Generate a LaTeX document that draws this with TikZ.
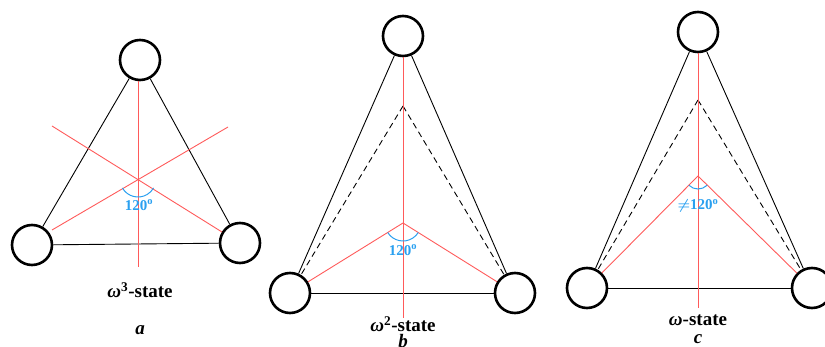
\documentclass[tikz,border=0pt]{standalone}
\usepackage{amsmath, amssymb}
\usepackage{fontspec}
\setmainfont{Liberation Serif}
\usepackage{tikz}
\usetikzlibrary{positioning, calc}
\definecolor{bondred}{HTML}{FF5A5A}
\definecolor{anglblue}{HTML}{2AA0F0}

\begin{document}
\begin{tikzpicture}[
    x=1pt, y=1pt,
    % Estilos
    ball/.style={
        draw=black, circle, line width=2.6pt, fill=white,
        minimum size=40pt, inner sep=0pt
    },
    edge/.style={draw=black, line width=0.9pt},
    dedge/.style={draw=black, line width=0.9pt, dash pattern=on 6pt off 4pt},
    bond/.style={draw=bondred, line width=0.9pt},
    angl/.style={draw=anglblue, line width=1pt},
    angtxt/.style={text=anglblue, font=\fontsize{15}{17}\selectfont\bfseries},
    state/.style={font=\fontsize{19}{21}\selectfont\bfseries, inner sep=0pt},
    tag/.style={font=\fontsize{19}{21}\selectfont\bfseries\itshape, inner sep=0pt}
]
    \useasboundingbox (0,0) rectangle (825,-347);

    % 1. Estado a
    \node[ball] (a1) at (140,-60)  {};
    \node[ball] (a2) at (32,-245)  {};
    \node[ball] (a3) at (240,-243) {};
    \coordinate (ac)  at (138,-179);
    \coordinate (aL1) at (52,-126);
    \coordinate (aR1) at (222,-232);
    \coordinate (aL2) at (52,-230);
    \coordinate (aR2) at (228,-127);
    \coordinate (aB)  at (138,-267);

    \draw[edge] (a1) -- (a2);
    \draw[edge] (a1) -- (a3);
    \draw[edge] (a2) -- (a3);
    \draw[bond] (aL1) -- (aR1);
    \draw[bond] (aR2) -- (aL2);
    \draw[bond] (a1.south -| ac) -- (aB);
    \draw[angl] ($(ac)+(210:18)$) arc[start angle=210, end angle=330, radius=18];
    \node[angtxt] (aang) at (139,-205) {120\textsuperscript{o}};
    \node[state] (alab) at (140,-290) {\textit{ω}\textsuperscript{3}-state};
    \node[tag, below=28pt of alab] (atag) {a};

    % 2. Estado b
    \node[ball] (b1) at (403,-36)  {};
    \node[ball] (b2) at (290,-293) {};
    \node[ball] (b3) at (515,-293) {};
    \coordinate (bc) at (403,-223);
    \coordinate (bt) at (403,-106);
    \coordinate (bB) at (403,-318);

    \draw[edge]  (b1) -- (b2);
    \draw[edge]  (b1) -- (b3);
    \draw[edge]  (b2) -- (b3);
    \draw[dedge] (bt) -- (b2);
    \draw[dedge] (bt) -- (b3);
    \draw[bond]  (bc) -- (b2);
    \draw[bond]  (bc) -- (b3);
    \draw[bond]  (b1) -- (bB);
    \draw[angl] ($(bc)+(212:18)$) arc[start angle=212, end angle=328, radius=18];
    \node[angtxt] (bang) at (403,-250) {120\textsuperscript{o}};
    \node[state] (blab) at (403,-324) {\textit{ω}\textsuperscript{2}-state};
    \node[tag] (btag) at (403,-341) {b};

    % 3. Estado c
    \node[ball] (c1) at (698,-32)  {};
    \node[ball] (c2) at (587,-288) {};
    \node[ball] (c3) at (812,-288) {};
    \coordinate (cc) at (698,-176);
    \coordinate (ct) at (698,-100);
    \coordinate (cB) at (698,-308);

    \draw[edge]  (c1) -- (c2);
    \draw[edge]  (c1) -- (c3);
    \draw[edge]  (c2) -- (c3);
    \draw[dedge] (ct) -- (c2);
    \draw[dedge] (ct) -- (c3);
    \draw[bond]  (cc) -- (c2);
    \draw[bond]  (cc) -- (c3);
    \draw[bond]  (c1) -- (cB);
    \draw[angl] ($(cc)+(225:13)$) arc[start angle=225, end angle=315, radius=13];
    \node[angtxt] (cang) at (698,-206) {$\boldsymbol{\neq}$120\textsuperscript{o}};
    \node[state] (clab) at (698,-320) {\textit{ω}-state};
    \node[tag] (ctag) at (698,-339) {c};

\end{tikzpicture}
\end{document}
